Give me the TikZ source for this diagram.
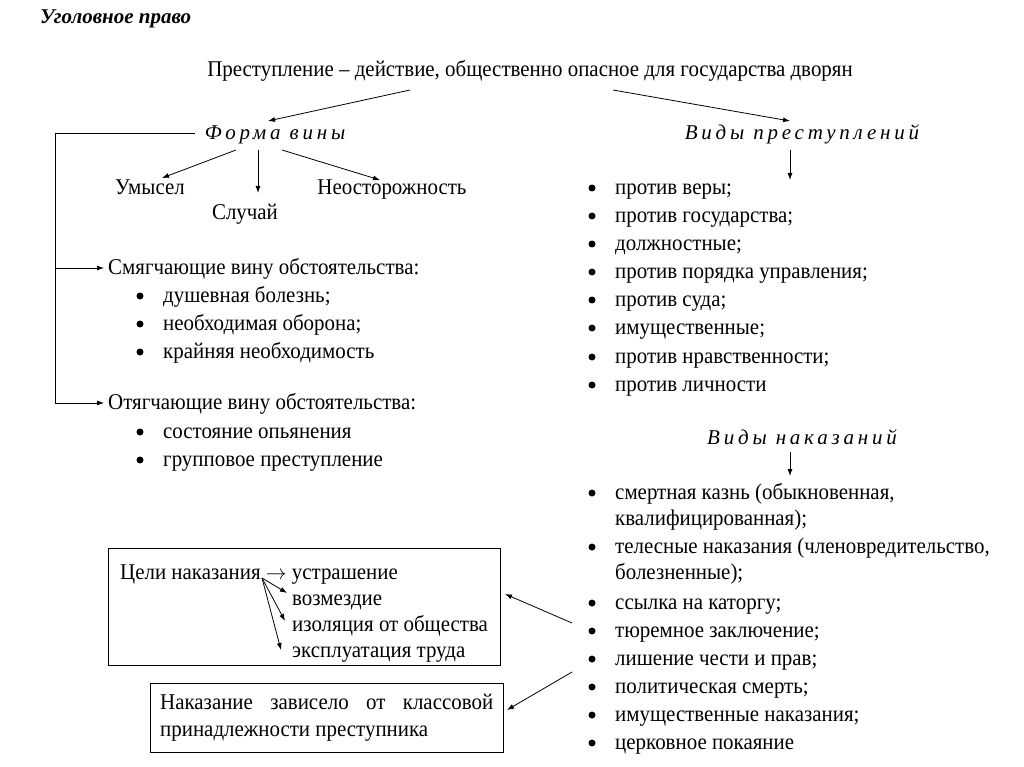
\documentclass[tikz,border=0pt]{standalone}
\usepackage{fontspec}
\setmainfont{Liberation Serif}[FakeStretch=0.93]
\newfontfamily\spacedit[LetterSpace=18,ItalicFont={Liberation Serif Italic}]{Liberation Serif}
\newfontfamily\titlefont[BoldItalicFont={Liberation Serif Bold Italic}]{Liberation Serif}
\usetikzlibrary{arrows.meta}
\tikzset{
  txt/.style={anchor=base west,yshift=-6.5pt,inner sep=0pt,font=\fontsize{22.5}{25}\selectfont},
  ctxt/.style={anchor=base,yshift=-6.5pt,inner sep=0pt,font=\fontsize{22.5}{25}\selectfont},
  head/.style={anchor=base,yshift=-6.5pt,inner sep=0pt,font=\fontsize{21}{25}\spacedit\itshape},
  arr/.style={draw,line width=0.8pt,-{Latex[length=7pt,width=5pt]}},
  bul/.style={circle,fill,inner sep=0pt,minimum size=7pt},
  frame/.style={draw,line width=0.9pt}
}
\begin{document}
\begin{tikzpicture}[x=1pt,y=-1pt]
\useasboundingbox (0,0) rectangle (1024,767);
\fill[white] (0,0) rectangle (1024,767);
% title
\node[anchor=base west,inner sep=0pt,font=\fontsize{21}{25}\titlefont\bfseries\itshape] (title) at (40,24) {Уголовное право};
% main
\node[ctxt] (main) at (530,70) {Преступление – действие, общественно опасное для государства дворян};
\node[head] (fv) at (275,133) {Форма вины};
\node[head] (vp) at (802,133) {Виды преступлений};
\coordinate (m1) at (410,90);
\coordinate (m2) at (613,90);
\coordinate (fvt) at (268,121);
\coordinate (vpt) at (790,121);
\draw[arr] (m1) -- (fvt);
\draw[arr] (m2) -- (vpt);
% forma viny
\node[ctxt] (um) at (150,188) {Умысел};
\node[ctxt] (sl) at (245,213) {Случай};
\node[ctxt] (ne) at (392,188) {Неосторожность};
\coordinate (f1) at (236,150);
\coordinate (f2) at (258,150);
\coordinate (f3) at (282,150);
\coordinate (t1) at (162,178);
\coordinate (t3) at (380,180);
\draw[arr] (f1) -- (t1);
\draw[arr] (f2) -- (258,193);
\draw[arr] (f3) -- (t3);
% left bracket
\coordinate (b0) at (195,133);
\coordinate (b1) at (55,133);
\node[txt] (sm) at (108,268) {Смягчающие вину обстоятельства:};
\node[txt] (ot) at (108,403) {Отягчающие вину обстоятельства:};
\coordinate (bs) at (55,268);
\coordinate (bo) at (55,403);
\coordinate (ts) at (104,268);
\coordinate (to) at (104,403);
\draw[line width=0.8pt] (b0) -- (b1) -- (bo);
\draw[arr] (bs) -- (ts);
\draw[arr] (bo) -- (to);
% lists left
\node[bul] (sb1) at (140,296) {}; \node[txt] (s1) at (163,296) {душевная болезнь;};
\node[bul] (sb2) at (140,324) {}; \node[txt] (s2) at (163,324) {необходимая оборона;};
\node[bul] (sb3) at (140,352) {}; \node[txt] (s3) at (163,352) {крайняя необходимость};
\node[bul] (ob1) at (140,432) {}; \node[txt] (o1) at (163,432) {состояние опьянения};
\node[bul] (ob2) at (140,460) {}; \node[txt] (o2) at (163,460) {групповое преступление};
% vidy prestupleniy
\coordinate (vpb) at (790,150);
\coordinate (vpe) at (790,180);
\draw[arr] (vpb) -- (vpe);
\node[bul] (pb1) at (592,188) {}; \node[txt] (p1) at (615,188) {против веры;};
\node[bul] (pb2) at (592,216) {}; \node[txt] (p2) at (615,216) {против государства;};
\node[bul] (pb3) at (592,244) {}; \node[txt] (p3) at (615,244) {должностные;};
\node[bul] (pb4) at (592,272) {}; \node[txt] (p4) at (615,272) {против порядка управления;};
\node[bul] (pb5) at (592,300) {}; \node[txt] (p5) at (615,300) {против суда;};
\node[bul] (pb6) at (592,328) {}; \node[txt] (p6) at (615,328) {имущественные;};
\node[bul] (pb7) at (592,357) {}; \node[txt] (p7) at (615,357) {против нравственности;};
\node[bul] (pb8) at (592,385) {}; \node[txt] (p8) at (615,385) {против личности};
% vidy nakazaniy
\node[head] (vn) at (802,438) {Виды наказаний};
\coordinate (vnb) at (790,452);
\coordinate (vne) at (790,476);
\draw[arr] (vnb) -- (vne);
\node[bul] (nb1) at (592,493) {}; \node[txt] (n1) at (615,493) {смертная казнь (обыкновенная,};
\node[txt] (n1b) at (615,519) {квалифицированная);};
\node[bul] (nb2) at (592,547) {}; \node[txt] (n2) at (615,547) {телесные наказания (членовредительство,};
\node[txt] (n2b) at (615,573) {болезненные);};
\node[bul] (nb3) at (592,603) {}; \node[txt] (n3) at (615,603) {ссылка на каторгу;};
\node[bul] (nb4) at (592,631) {}; \node[txt] (n4) at (615,631) {тюремное заключение;};
\node[bul] (nb5) at (592,659) {}; \node[txt] (n5) at (615,659) {лишение чести и прав;};
\node[bul] (nb6) at (592,687) {}; \node[txt] (n6) at (615,687) {политическая смерть;};
\node[bul] (nb7) at (592,715) {}; \node[txt] (n7) at (615,715) {имущественные наказания;};
\node[bul] (nb8) at (592,743) {}; \node[txt] (n8) at (615,743) {церковное покаяние};
% box 1
\node[frame,minimum width=392pt,minimum height=117pt,inner sep=0pt] (box1) at (304,606.5) {};
\node[txt] (cel) at (120,573) {Цели наказания $\rightarrow$ устрашение};
\node[txt] (g2) at (292,599) {возмездие};
\node[txt] (g3) at (292,625) {изоляция от общества};
\node[txt] (g4) at (292,651) {эксплуатация труда};
\coordinate (co) at (262,578);
\coordinate (c2) at (287,593);
\coordinate (c3) at (285,621);
\coordinate (c4) at (281,650);
\draw[arr] (co) -- (c2);
\draw[arr] (co) -- (c3);
\draw[arr] (co) -- (c4);
% box 2
\node[frame,minimum width=353pt,minimum height=69pt,inner sep=0pt] (box2) at (326.5,717.5) {};
\node[txt] (k1) at (160,703) {\makebox[333pt][s]{Наказание зависело от классовой}};
\node[txt] (k2) at (160,730) {принадлежности преступника};
% arrows from list
\coordinate (la) at (572,623);
\coordinate (lb) at (572,672);
\coordinate (ea) at (505,594);
\coordinate (eb) at (507,710);
\draw[arr] (la) -- (ea);
\draw[arr] (lb) -- (eb);
\end{tikzpicture}
\end{document}
